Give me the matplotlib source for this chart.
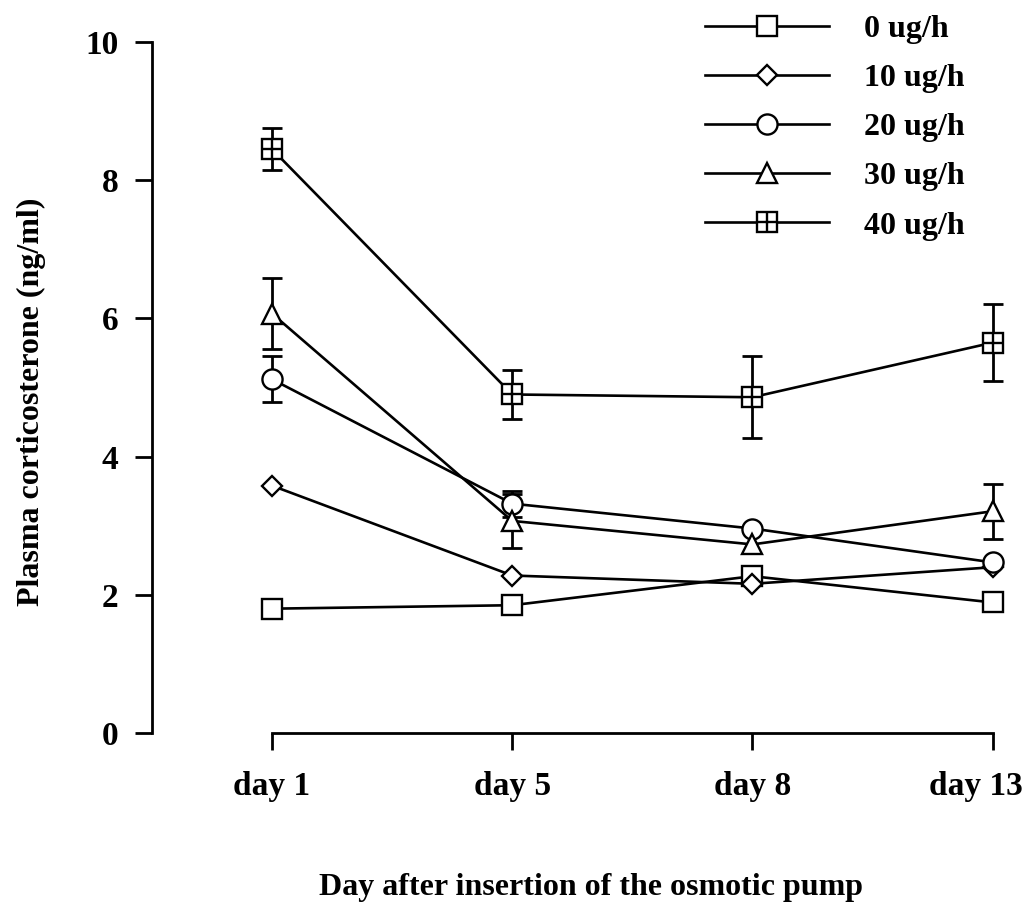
import numpy as np
import matplotlib
matplotlib.use("Agg")
import matplotlib.pyplot as plt
import matplotlib.transforms as mtransforms

# ---------------------------------------------------------------------------
# Data
# ---------------------------------------------------------------------------
days = ["day 1", "day 5", "day 8", "day 13"]
doses = ["0 ug/h", "10 ug/h", "20 ug/h", "30 ug/h", "40 ug/h"]

mean_0 = [1.80, 1.85, 2.27, 1.89]
mean_10 = [3.58, 2.28, 2.16, 2.40]
mean_20 = [5.12, 3.32, 2.96, 2.47]
mean_30 = [6.07, 3.07, 2.73, 3.21]
mean_40 = [8.45, 4.90, 4.86, 5.65]

# SEM, None where no bar is shown
sem_0 = [None, None, None, None]
sem_10 = [None, None, None, None]
sem_20 = [0.33, 0.19, None, None]
sem_30 = [0.51, 0.39, None, 0.40]
sem_40 = [0.30, 0.35, 0.59, 0.56]

means = [mean_0, mean_10, mean_20, mean_30, mean_40]
sems = [sem_0, sem_10, sem_20, sem_30, sem_40]
markers = ["s", "D", "o", "^", "s"]
msizes = [14.5, 10.5, 14.5, 14.5, 14.5]

plt.rcParams["font.family"] = ["Liberation Serif", "DejaVu Serif"]
plt.rcParams["font.weight"] = "bold"

fig = plt.figure(figsize=(10.24, 9.05), dpi=100)
ax = fig.add_axes([0.1484, 0.19, 0.835, 0.7635])

x = np.arange(len(days))
handles = []
for i, (m, s) in enumerate(zip(means, sems)):
    m = np.array(m, dtype=float)
    idx = [k for k, v in enumerate(s) if v is not None]
    if idx:
        ax.errorbar(x[idx], m[idx], yerr=[s[k] for k in idx], fmt="none",
                    ecolor="black", elinewidth=2.0, capsize=7.5,
                    capthick=2.0, zorder=1)
    ln, = ax.plot(x, m, color="black", lw=1.9, marker=markers[i],
                  ms=msizes[i], mfc="white", mec="black", mew=1.7,
                  zorder=3 + i)
    if i == 4:
        plus, = ax.plot(x, m, ls="none", marker="+", ms=14.5, mec="black",
                        mew=1.7, zorder=3 + i)
        handles.append((ln, plus))
    else:
        handles.append(ln)

ax.set_xlim(-0.5, 3.06)
ax.set_ylim(0, 10)
ax.set_yticks([0, 2, 4, 6, 8, 10])
ax.set_xticks(x)
ax.set_xticklabels(days)

for side in ["top", "right"]:
    ax.spines[side].set_visible(False)
ax.spines["bottom"].set_bounds(0, 3)
ax.spines["left"].set_linewidth(2.0)
ax.spines["bottom"].set_linewidth(2.0)
ax.tick_params(axis="both", direction="out", length=12, width=2.0,
               labelsize=24)
ax.tick_params(axis="y", pad=12)
ax.tick_params(axis="x", pad=15)

# last x label sits a little left of its tick, as in the original
last = ax.get_xticklabels()[-1]
last.set_transform(last.get_transform() +
                   mtransforms.ScaledTranslation(-12 / 72, 0,
                                                 fig.dpi_scale_trans))

ax.set_ylabel("Plasma corticosterone (ng/ml)", fontsize=23,
              fontweight="bold")
ax.yaxis.set_label_coords(-0.124, 0.48)
ax.set_xlabel("Day after insertion of the osmotic pump", fontsize=23,
              fontweight="bold")
ax.xaxis.set_label_coords(0.513, -0.203)

fig.legend(handles, doses, loc="upper left",
           bbox_to_anchor=(0.688, 0.984), frameon=False,
           handlelength=3.9, handletextpad=1.1, labelspacing=0.62,
           borderpad=0, borderaxespad=0,
           prop={"size": 23, "weight": "bold"})

fig.savefig("out.png", dpi=100)
